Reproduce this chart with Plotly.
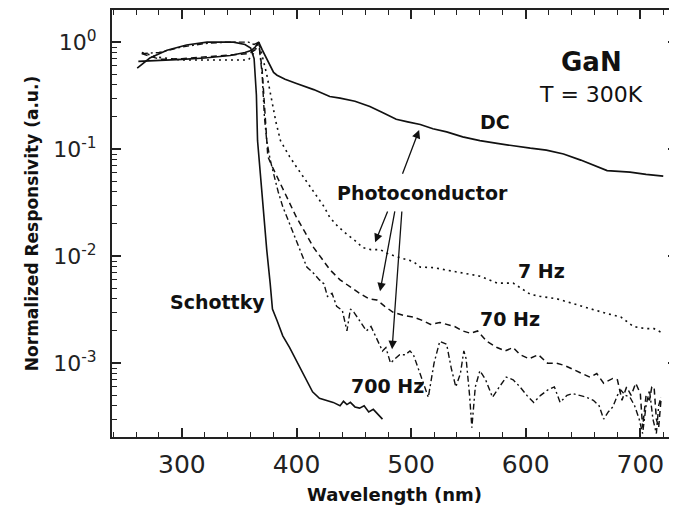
import numpy as np
import plotly.graph_objects as go

# ---------------- data ----------------
schottky_nm = [261, 272, 287, 304, 322, 345, 355, 360, 363, 365,
               366, 370, 374, 377, 379, 383, 388, 394, 400, 406,
               410, 414, 420, 427, 432, 438, 441, 444, 447, 451,
               455, 459, 463, 467, 471, 475]
schottky_val = [0.57, 0.71, 0.84, 0.94, 1.0, 1.0, 0.95, 0.88, 0.7, 0.32,
                0.12, 0.036, 0.0115, 0.0056, 0.0032, 0.0025, 0.0018, 0.0014, 0.00105, 0.00079,
                0.00066, 0.00054, 0.00047, 0.00045, 0.00043, 0.0004, 0.00044, 0.00041, 0.00043, 0.00039,
                0.00038, 0.0004, 0.00035, 0.00037, 0.00033, 0.0003]

dc_nm = [262, 280, 300, 320, 342, 355, 361, 364, 367, 370,
         374, 377, 380, 383, 390, 400, 415, 429, 438, 451,
         464, 475, 487, 497, 508, 519, 531, 545, 560, 575,
         589, 604, 618, 633, 648, 660, 671, 681, 691, 705,
         720]
dc_val = [0.66, 0.67, 0.69, 0.71, 0.75, 0.8, 0.84, 0.9, 1.0, 0.85,
          0.7, 0.59, 0.52, 0.49, 0.45, 0.41, 0.36, 0.31, 0.30, 0.28,
          0.25, 0.22, 0.19, 0.18, 0.17, 0.155, 0.145, 0.13, 0.12, 0.113,
          0.107, 0.102, 0.098, 0.09, 0.079, 0.07, 0.063, 0.062, 0.061, 0.058,
          0.056]

hz7_nm = [265, 280, 300, 330, 358, 363, 367, 370, 374, 378,
          382, 386, 390, 394, 400, 406, 412, 418, 424, 429,
          436, 444, 451, 458, 465, 473, 480, 490, 502, 508,
          520, 531, 545, 560, 575, 589, 604, 613, 627, 641,
          648, 660, 671, 683, 694, 705, 712, 720]
hz7_val = [0.8, 0.72, 0.68, 0.68, 0.68, 0.8, 1.0, 0.75, 0.5, 0.3,
           0.18, 0.12, 0.1, 0.085, 0.068, 0.055, 0.045, 0.036, 0.029, 0.023,
           0.019, 0.016, 0.014, 0.012, 0.0115, 0.0115, 0.0105, 0.0097, 0.0089, 0.0079,
           0.0078, 0.0074, 0.007, 0.0065, 0.0056, 0.0056, 0.0044, 0.0042, 0.004, 0.0036,
           0.0034, 0.0031, 0.0029, 0.0027, 0.0022, 0.0021, 0.0021, 0.0019]

hz70_nm = [265, 281, 300, 316, 340, 359, 364, 367, 370, 372,
           375, 379, 383, 388, 394, 400, 407, 415, 422, 429,
           438, 447, 455, 463, 470, 477, 484, 493, 502, 510,
           517, 525, 531, 538, 545, 552, 558, 566, 575, 582,
           589, 595, 603, 611, 619, 627, 634, 641, 648, 656,
           662, 668, 676, 680, 684, 688, 692, 696, 700, 702,
           705, 708, 710, 712, 714, 716, 718, 720]
hz70_val = [0.78, 0.69, 0.7, 0.72, 0.75, 0.78, 0.85, 1.0, 0.55, 0.25,
            0.085, 0.068, 0.055, 0.042, 0.031, 0.023, 0.017, 0.012, 0.0095, 0.0075,
            0.006, 0.0051, 0.0045, 0.004, 0.0039, 0.0034, 0.003, 0.0028, 0.0027, 0.0025,
            0.0023, 0.0024, 0.0023, 0.0022, 0.002, 0.0019, 0.002, 0.0016, 0.0014, 0.0013,
            0.0014, 0.0012, 0.0011, 0.0012, 0.001, 0.001, 0.00095, 0.00088, 0.00081, 0.00074,
            0.0008, 0.00065, 0.00072, 0.0007, 0.00045, 0.0006, 0.0005, 0.00065, 0.00052, 0.00025,
            0.0005, 0.00045, 0.0006, 0.0006, 0.0003, 0.00025, 0.00045, 0.00045]

hz700_nm = [265, 280, 300, 320, 340, 358, 363, 367, 370, 372,
            374, 377, 380, 384, 388, 394, 400, 405, 409, 415,
            420, 424, 427, 431, 435, 440, 444, 447, 450, 455,
            461, 465, 470, 475, 478, 482, 486, 490, 495, 499,
            502, 506, 510, 515, 520, 525, 531, 535, 539, 543,
            546, 548, 551, 553, 556, 560, 565, 571, 577, 583,
            589, 595, 601, 607, 613, 619, 625, 630, 636, 641,
            647, 653, 659, 664, 668, 672, 676, 680, 683, 687,
            691, 695, 699, 702, 705, 708, 711, 714, 716, 718]
hz700_val = [0.78, 0.8, 0.9, 0.97, 1.0, 1.0, 0.95, 1.0, 0.5, 0.2,
             0.12, 0.08, 0.059, 0.04, 0.029, 0.02, 0.014, 0.01, 0.0079, 0.0069,
             0.006, 0.0055, 0.0042, 0.0045, 0.0034, 0.0031, 0.002, 0.0032, 0.003, 0.0025,
             0.002, 0.0022, 0.0017, 0.0013, 0.0014, 0.001, 0.0011, 0.0012, 0.0012, 0.0013,
             0.0012, 0.0009, 0.0007, 0.00048, 0.001, 0.0016, 0.0015, 0.0009, 0.0006, 0.0008,
             0.0013, 0.0011, 0.0005, 0.00025, 0.0006, 0.00085, 0.0007, 0.00048, 0.0006, 0.00074,
             0.0007, 0.0006, 0.0005, 0.00043, 0.0005, 0.00056, 0.0006, 0.00043, 0.0005, 0.00052,
             0.0005, 0.00048, 0.00045, 0.0004, 0.0003, 0.00035, 0.00039, 0.0005, 0.00056, 0.0005,
             0.00048, 0.0004, 0.0003, 0.00022, 0.0004, 0.00056, 0.0003, 0.00022, 0.0004, 0.00048]

x_tick_vals = [300, 400, 500, 600, 700]
x_tick_text = ["300", "400", "500", "600", "700"]
y_tick_vals = [1e-3, 1e-2, 1e-1, 1]
y_tick_text = ["10<sup>-3</sup>", "10<sup>-2</sup>", "10<sup>-1</sup>", "10<sup>0</sup>"]

# labels: (text, wavelength, value)
curve_labels = [("DC", 573, 0.179), ("Schottky", 331, 0.0037), ("7 Hz", 614, 0.0072),
                ("70 Hz", 586, 0.0026), ("700 Hz", 479, 0.00061),
                ("Photoconductor", 510, 0.0388)]
# arrows: (tail nm, tail value, head nm, head value)
arrows = [(492, 0.057, 507, 0.151),
          (480, 0.027, 468.6, 0.0135),
          (486, 0.027, 472.9, 0.0047),
          (492, 0.027, 483.4, 0.00135)]

# ---------------- figure ----------------
fig = go.Figure()
ink = "#111111"
series = [
    (dc_nm, dc_val, "solid", 1.7, "DC"),
    (schottky_nm, schottky_val, "solid", 1.6, "Schottky"),
    (hz7_nm, hz7_val, "2px,4px", 1.6, "7 Hz"),
    (hz70_nm, hz70_val, "6px,4px", 1.5, "70 Hz"),
    (hz700_nm, hz700_val, "6px,3px,2px,3px", 1.4, "700 Hz"),
]
for xs, ys, dash, w, name in series:
    fig.add_trace(go.Scatter(x=xs, y=ys, mode="lines", name=name,
                             line=dict(color=ink, width=w, dash=dash),
                             showlegend=False))

bold = dict(family="DejaVu Sans", size=19, color=ink, weight="bold")
for text, xv, yv in curve_labels:
    fig.add_annotation(x=xv, y=np.log10(yv), xref="x", yref="y", text=text,
                       showarrow=False, font=bold)

fig.add_annotation(x=657, y=np.log10(0.65), xref="x", yref="y", text="GaN",
                   showarrow=False,
                   font=dict(family="DejaVu Sans", size=26, color=ink, weight="bold"))
fig.add_annotation(x=657, y=np.log10(0.327), xref="x", yref="y", text="T = 300K",
                   showarrow=False,
                   font=dict(family="DejaVu Sans", size=22, color=ink))

for tx, tv, hx, hv in arrows:
    fig.add_annotation(x=hx, y=np.log10(hv), ax=tx, ay=np.log10(tv),
                       xref="x", yref="y", axref="x", ayref="y",
                       text="", showarrow=True, arrowhead=2, arrowsize=1.3,
                       arrowwidth=1.3, arrowcolor=ink, standoff=0, startstandoff=0)

axis_common = dict(showline=True, linecolor="#222222", linewidth=2, mirror="ticks",
                   ticks="inside", tickcolor="#222222", tickwidth=1.5, ticklen=9,
                   showgrid=False, zeroline=False)

fig.update_xaxes(range=[239, 732], tickmode="array", tickvals=x_tick_vals,
                 ticktext=x_tick_text,
                 tickfont=dict(family="DejaVu Sans", size=25, color="#222222"),
                 ticklabelstandoff=4,
                 minor=dict(ticks="inside", ticklen=5, tickwidth=1.3, tickcolor="#222222",
                            dtick=20, tick0=240, showgrid=False),
                 title=dict(text="<b>Wavelength (nm)</b>", standoff=10,
                            font=dict(family="DejaVu Sans", size=18, color=ink)),
                 **axis_common)

y_minor = [m * 10.0 ** e for e in range(-4, 1) for m in range(2, 10)]
fig.update_yaxes(type="log", range=[-3.69, 0.30], tickmode="array",
                 tickvals=y_tick_vals, ticktext=y_tick_text,
                 tickfont=dict(family="DejaVu Sans", size=22, color="#222222"),
                 ticklabelstandoff=9,
                 minor=dict(ticks="inside", ticklen=5, tickwidth=1.3, tickcolor="#222222",
                            tickmode="array", tickvals=y_minor, showgrid=False),
                 title=dict(text="<b>Normalized Responsivity (a.u.)</b>", standoff=10,
                            font=dict(family="DejaVu Sans", size=17, color=ink)),
                 **axis_common)

# page body adds an 8px offset; size the figure so the plot lands where the reference has it
fig.update_layout(width=669, height=503,
                  margin=dict(l=104, r=0, t=2, b=74, autoexpand=False),
                  paper_bgcolor="white", plot_bgcolor="white")

fig.write_html("out.html")
